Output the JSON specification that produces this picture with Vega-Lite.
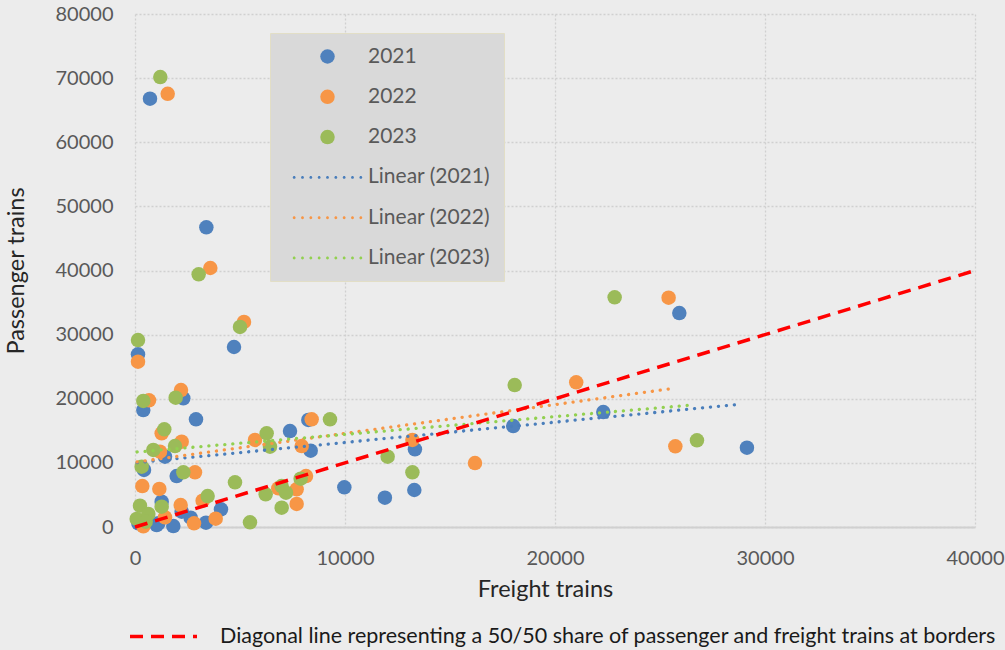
{
  "$schema": "https://vega.github.io/schema/vega-lite/v6.json",
  "width": 840,
  "height": 513,
  "autosize": {"type": "none"},
  "padding": {"left": 135, "top": 14, "right": 30, "bottom": 123},
  "background": "#ececec",
  "config": {
    "view": {"stroke": null, "fill": "#ececec"},
    "font": "Lato",
    "axis": {
      "grid": true,
      "gridColor": "#d0d0d0",
      "gridDash": [2, 2],
      "gridWidth": 1.3,
      "ticks": false,
      "tickSize": 0,
      "labelFlush": false,
      "labelFont": "Lato",
      "labelFontSize": 20,
      "labelColor": "#595959",
      "titleFont": "Lato",
      "titleFontSize": 23.5,
      "titleFontWeight": "normal",
      "titleColor": "#262626",
      "format": "d"
    }
  },
  "layer": [
    {
      "data": {"values": [
        {"series": "2021", "freight": 714, "passenger": 66800},
        {"series": "2021", "freight": 3397, "passenger": 46730},
        {"series": "2021", "freight": 4714, "passenger": 28070},
        {"series": "2021", "freight": 143, "passenger": 26930},
        {"series": "2021", "freight": 395, "passenger": 18240},
        {"series": "2021", "freight": 2300, "passenger": 20070},
        {"series": "2021", "freight": 2905, "passenger": 16790},
        {"series": "2021", "freight": 7381, "passenger": 14970},
        {"series": "2021", "freight": 8254, "passenger": 16690},
        {"series": "2021", "freight": 8365, "passenger": 11900},
        {"series": "2021", "freight": 13330, "passenger": 12110},
        {"series": "2021", "freight": 13300, "passenger": 5770},
        {"series": "2021", "freight": 11900, "passenger": 4570},
        {"series": "2021", "freight": 9968, "passenger": 6190},
        {"series": "2021", "freight": 18010, "passenger": 15750},
        {"series": "2021", "freight": 25920, "passenger": 33370},
        {"series": "2021", "freight": 22300, "passenger": 17930},
        {"series": "2021", "freight": 29140, "passenger": 12370},
        {"series": "2021", "freight": 1429, "passenger": 10970},
        {"series": "2021", "freight": 429, "passenger": 8890},
        {"series": "2021", "freight": 1984, "passenger": 7950},
        {"series": "2021", "freight": 4095, "passenger": 2760},
        {"series": "2021", "freight": 3381, "passenger": 670},
        {"series": "2021", "freight": 2650, "passenger": 1450},
        {"series": "2021", "freight": 2222, "passenger": 2390},
        {"series": "2021", "freight": 1825, "passenger": 150},
        {"series": "2021", "freight": 1270, "passenger": 3950},
        {"series": "2021", "freight": 1032, "passenger": 310},
        {"series": "2021", "freight": 159, "passenger": 580},
        {"series": "2021", "freight": 1111, "passenger": 580},
        {"series": "2022", "freight": 1557, "passenger": 67560},
        {"series": "2022", "freight": 3587, "passenger": 40390},
        {"series": "2022", "freight": 5190, "passenger": 31970},
        {"series": "2022", "freight": 143, "passenger": 25780},
        {"series": "2022", "freight": 667, "passenger": 19760},
        {"series": "2022", "freight": 2190, "passenger": 21360},
        {"series": "2022", "freight": 1270, "passenger": 14610},
        {"series": "2022", "freight": 8413, "passenger": 16790},
        {"series": "2022", "freight": 5714, "passenger": 13570},
        {"series": "2022", "freight": 7937, "passenger": 12630},
        {"series": "2022", "freight": 13210, "passenger": 13570},
        {"series": "2022", "freight": 8143, "passenger": 7950},
        {"series": "2022", "freight": 6825, "passenger": 6030},
        {"series": "2022", "freight": 7698, "passenger": 5870},
        {"series": "2022", "freight": 7698, "passenger": 3590},
        {"series": "2022", "freight": 21010, "passenger": 22560},
        {"series": "2022", "freight": 16190, "passenger": 9980},
        {"series": "2022", "freight": 25410, "passenger": 35760},
        {"series": "2022", "freight": 25730, "passenger": 12580},
        {"series": "2022", "freight": 1190, "passenger": 11750},
        {"series": "2022", "freight": 2222, "passenger": 13310},
        {"series": "2022", "freight": 349, "passenger": 6390},
        {"series": "2022", "freight": 1159, "passenger": 5930},
        {"series": "2022", "freight": 2857, "passenger": 8530},
        {"series": "2022", "freight": 3841, "passenger": 1300},
        {"series": "2022", "freight": 3222, "passenger": 4100},
        {"series": "2022", "freight": 2810, "passenger": 580},
        {"series": "2022", "freight": 2175, "passenger": 3430},
        {"series": "2022", "freight": 1429, "passenger": 1510},
        {"series": "2022", "freight": 397, "passenger": 100},
        {"series": "2023", "freight": 1205, "passenger": 70170},
        {"series": "2023", "freight": 3032, "passenger": 39400},
        {"series": "2023", "freight": 5000, "passenger": 31190},
        {"series": "2023", "freight": 143, "passenger": 29160},
        {"series": "2023", "freight": 395, "passenger": 19650},
        {"series": "2023", "freight": 1937, "passenger": 20170},
        {"series": "2023", "freight": 1395, "passenger": 15230},
        {"series": "2023", "freight": 9286, "passenger": 16790},
        {"series": "2023", "freight": 6270, "passenger": 14610},
        {"series": "2023", "freight": 6429, "passenger": 12530},
        {"series": "2023", "freight": 12030, "passenger": 10970},
        {"series": "2023", "freight": 13210, "passenger": 8530},
        {"series": "2023", "freight": 7889, "passenger": 7540},
        {"series": "2023", "freight": 6222, "passenger": 5100},
        {"series": "2023", "freight": 6984, "passenger": 6390},
        {"series": "2023", "freight": 7190, "passenger": 5350},
        {"series": "2023", "freight": 6984, "passenger": 3010},
        {"series": "2023", "freight": 5476, "passenger": 730},
        {"series": "2023", "freight": 18080, "passenger": 22140},
        {"series": "2023", "freight": 22840, "passenger": 35820},
        {"series": "2023", "freight": 26760, "passenger": 13520},
        {"series": "2023", "freight": 873, "passenger": 12010},
        {"series": "2023", "freight": 1905, "passenger": 12630},
        {"series": "2023", "freight": 317, "passenger": 9410},
        {"series": "2023", "freight": 2302, "passenger": 8530},
        {"series": "2023", "freight": 4762, "passenger": 6970},
        {"series": "2023", "freight": 3460, "passenger": 4830},
        {"series": "2023", "freight": 238, "passenger": 3320},
        {"series": "2023", "freight": 79, "passenger": 1250},
        {"series": "2023", "freight": 635, "passenger": 2030},
        {"series": "2023", "freight": 508, "passenger": 830},
        {"series": "2023", "freight": 1270, "passenger": 3170}
      ]},
      "mark": {"type": "point", "filled": true, "opacity": 1, "size": 210},
      "encoding": {
        "x": {
          "field": "freight", "type": "quantitative",
          "scale": {"domain": [0, 40000], "nice": false, "zero": false},
          "axis": {
            "values": [0, 10000, 20000, 30000, 40000],
            "title": "Freight trains",
            "labelPadding": 21,
            "titlePadding": 9,
            "titleX": 410,
            "domainColor": "#d0d0d0",
            "domainWidth": 2
          }
        },
        "y": {
          "field": "passenger", "type": "quantitative",
          "scale": {"domain": [0, 80000], "nice": false, "zero": false},
          "axis": {
            "values": [0, 10000, 20000, 30000, 40000, 50000, 60000, 70000, 80000],
            "title": "Passenger trains",
            "labelPadding": 22,
            "titlePadding": 27,
            "domain": false
          }
        },
        "color": {
          "field": "series", "type": "nominal",
          "scale": {
            "domain": ["2021", "2022", "2023", "Linear (2021)", "Linear (2022)", "Linear (2023)"],
            "range": ["#4f81bd", "#f79646", "#9bbb59", "#4a7ebb", "#f79646", "#92d050"]
          },
          "legend": {
            "orient": "none", "legendX": 135, "legendY": 19,
            "title": null,
            "fillColor": "#d9d9d9", "strokeColor": "#e2dec6",
            "padding": 13,
            "labelFont": "Lato", "labelFontSize": 21, "labelColor": "#595959",
            "symbolSize": 210, "rowPadding": 18.3, "labelOffset": 30, "symbolOffset": 34, "symbolOpacity": 1
          }
        },
        "shape": {
          "field": "series", "type": "nominal",
          "scale": {
            "domain": ["2021", "2022", "2023", "Linear (2021)", "Linear (2022)", "Linear (2023)"],
            "range": ["circle", "circle", "circle",
              "M-4.8,0a0.2,0.2 0 1,0 0.4,0a0.2,0.2 0 1,0 -0.4,0M-3.65,0a0.2,0.2 0 1,0 0.4,0a0.2,0.2 0 1,0 -0.4,0M-2.5,0a0.2,0.2 0 1,0 0.4,0a0.2,0.2 0 1,0 -0.4,0M-1.35,0a0.2,0.2 0 1,0 0.4,0a0.2,0.2 0 1,0 -0.4,0M-0.2,0a0.2,0.2 0 1,0 0.4,0a0.2,0.2 0 1,0 -0.4,0M0.95,0a0.2,0.2 0 1,0 0.4,0a0.2,0.2 0 1,0 -0.4,0M2.1,0a0.2,0.2 0 1,0 0.4,0a0.2,0.2 0 1,0 -0.4,0M3.25,0a0.2,0.2 0 1,0 0.4,0a0.2,0.2 0 1,0 -0.4,0M4.4,0a0.2,0.2 0 1,0 0.4,0a0.2,0.2 0 1,0 -0.4,0",
              "M-4.8,0a0.2,0.2 0 1,0 0.4,0a0.2,0.2 0 1,0 -0.4,0M-3.65,0a0.2,0.2 0 1,0 0.4,0a0.2,0.2 0 1,0 -0.4,0M-2.5,0a0.2,0.2 0 1,0 0.4,0a0.2,0.2 0 1,0 -0.4,0M-1.35,0a0.2,0.2 0 1,0 0.4,0a0.2,0.2 0 1,0 -0.4,0M-0.2,0a0.2,0.2 0 1,0 0.4,0a0.2,0.2 0 1,0 -0.4,0M0.95,0a0.2,0.2 0 1,0 0.4,0a0.2,0.2 0 1,0 -0.4,0M2.1,0a0.2,0.2 0 1,0 0.4,0a0.2,0.2 0 1,0 -0.4,0M3.25,0a0.2,0.2 0 1,0 0.4,0a0.2,0.2 0 1,0 -0.4,0M4.4,0a0.2,0.2 0 1,0 0.4,0a0.2,0.2 0 1,0 -0.4,0",
              "M-4.8,0a0.2,0.2 0 1,0 0.4,0a0.2,0.2 0 1,0 -0.4,0M-3.65,0a0.2,0.2 0 1,0 0.4,0a0.2,0.2 0 1,0 -0.4,0M-2.5,0a0.2,0.2 0 1,0 0.4,0a0.2,0.2 0 1,0 -0.4,0M-1.35,0a0.2,0.2 0 1,0 0.4,0a0.2,0.2 0 1,0 -0.4,0M-0.2,0a0.2,0.2 0 1,0 0.4,0a0.2,0.2 0 1,0 -0.4,0M0.95,0a0.2,0.2 0 1,0 0.4,0a0.2,0.2 0 1,0 -0.4,0M2.1,0a0.2,0.2 0 1,0 0.4,0a0.2,0.2 0 1,0 -0.4,0M3.25,0a0.2,0.2 0 1,0 0.4,0a0.2,0.2 0 1,0 -0.4,0M4.4,0a0.2,0.2 0 1,0 0.4,0a0.2,0.2 0 1,0 -0.4,0"
            ]
          },
          "legend": {
            "orient": "none", "legendX": 135, "legendY": 19,
            "title": null,
            "fillColor": "#d9d9d9", "strokeColor": "#e2dec6",
            "padding": 13,
            "labelFont": "Lato", "labelFontSize": 21, "labelColor": "#595959",
            "symbolSize": 210, "rowPadding": 18.3, "labelOffset": 30, "symbolOffset": 34, "symbolOpacity": 1
          }
        }
      }
    },
    {
      "data": {"values": [
        {"series": "Linear (2021)", "freight": 100, "passenger": 10050},
        {"series": "Linear (2021)", "freight": 28780, "passenger": 19130},
        {"series": "Linear (2022)", "freight": 100, "passenger": 10150},
        {"series": "Linear (2022)", "freight": 25550, "passenger": 21580},
        {"series": "Linear (2023)", "freight": 100, "passenger": 11700},
        {"series": "Linear (2023)", "freight": 26550, "passenger": 19030}
      ]},
      "mark": {"type": "line", "strokeDash": [0.1, 7.9], "strokeCap": "round", "strokeWidth": 3.3},
      "encoding": {
        "x": {"field": "freight", "type": "quantitative"},
        "y": {"field": "passenger", "type": "quantitative"},
        "stroke": {
          "field": "series", "type": "nominal",
          "scale": {
            "domain": ["Linear (2021)", "Linear (2022)", "Linear (2023)"],
            "range": ["#4a7ebb", "#f79646", "#92d050"]
          },
          "legend": null
        }
      }
    },
    {
      "data": {"values": [
        {"label": "Diagonal line representing a 50/50 share of passenger and freight trains at borders", "freight": 0, "passenger": 0},
        {"label": "Diagonal line representing a 50/50 share of passenger and freight trains at borders", "freight": 40000, "passenger": 40000}
      ]},
      "mark": {"type": "line", "color": "#ff0000", "strokeWidth": 3.5},
      "encoding": {
        "x": {"field": "freight", "type": "quantitative"},
        "y": {"field": "passenger", "type": "quantitative"},
        "strokeDash": {
          "field": "label", "type": "nominal",
          "scale": {"range": [[13, 8]]},
          "legend": {
            "orient": "none", "legendX": -7, "legendY": 587,
            "title": null,
            "symbolType": "stroke", "symbolSize": 4489, "symbolStrokeWidth": 3.5,
            "symbolStrokeColor": "#ff0000",
            "labelFont": "Lato", "labelFontSize": 21.5, "labelColor": "#1a1a1a",
            "labelOffset": 21, "labelLimit": 1000, "padding": 0
          }
        }
      }
    }
  ]
}
